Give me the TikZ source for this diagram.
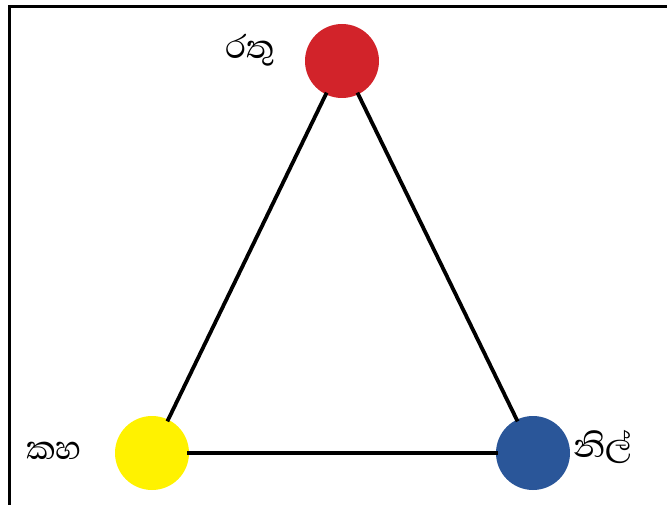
\documentclass[tikz,border=0pt]{standalone}
\usepackage{fontspec}
\newfontfamily\sinhala[Script=Sinhala]{Abhaya Libre}
\definecolor{cred}{HTML}{D2232A}
\definecolor{cyellow}{HTML}{FFF200}
\definecolor{cblue}{HTML}{2A5699}
\begin{document}
\begin{tikzpicture}[x=1pt,y=-1pt,
  dot/.style={circle,minimum size=74pt,inner sep=0pt},
  edge/.style={line width=3.8pt,shorten <=-2pt,shorten >=-2pt},
  lbl/.style={font=\sinhala\fontsize{42}{46}\selectfont,inner sep=0pt}]
\useasboundingbox (0,0) rectangle (667,505);
\begin{scope}
\clip (0,0) rectangle (667,505);
\coordinate (ftop) at (700,7);
\coordinate (fcorner) at (9.5,7);
\coordinate (fbottom) at (9.5,520);
\draw[line width=3pt] (ftop) -- (fcorner) -- (fbottom);
\end{scope}
\node[dot,fill=cred] (r) at (342,61) {};
\node[dot,fill=cyellow] (y) at (152,453) {};
\node[dot,fill=cblue] (b) at (533,453) {};
\draw[edge] (r) -- (y);
\draw[edge] (r) -- (b);
\draw[edge] (y) -- (b);
\node[lbl] (lr) at (250,50) {රතු};
\node[lbl] (ly) at (54,451) {කහ};
\node[lbl] (lb) at (603,447) {නිල්};
\end{tikzpicture}
\end{document}
